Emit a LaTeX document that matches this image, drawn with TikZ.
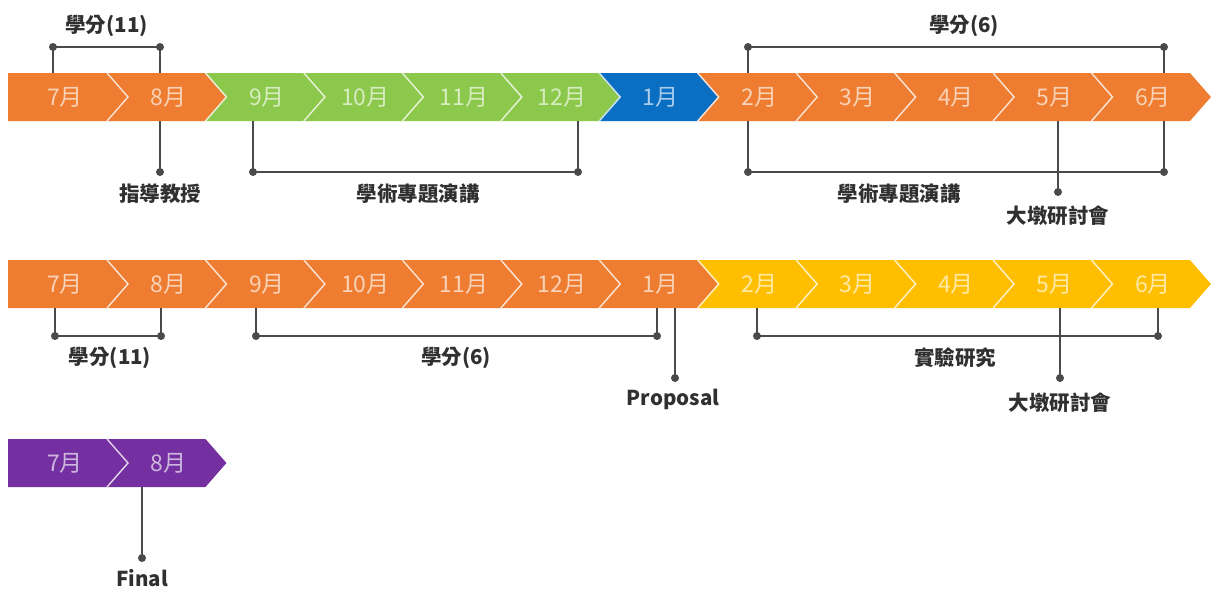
\documentclass[tikz,border=0pt]{standalone}
\usepackage{fontspec}
\newfontfamily\cjk{Noto Sans CJK TC}
\definecolor{cor}{HTML}{EE7D31}
\definecolor{cgr}{HTML}{8CC84B}
\definecolor{cbl}{HTML}{0A6EC2}
\definecolor{cye}{HTML}{FFBF00}
\definecolor{cpu}{HTML}{7430A0}
\definecolor{labelgray}{HTML}{303030}
\definecolor{linegray}{HTML}{4A4A4A}
\tikzset{
  monthtxt/.style={font=\cjk\fontsize{23}{27}\selectfont, inner sep=0pt},
  lbl/.style={font=\cjk\bfseries\fontsize{20.5}{24}\selectfont, text=labelgray, inner sep=0pt},
  conn/.style={draw=linegray, line width=1.6pt},
  enddot/.style={circle, fill=linegray, inner sep=0pt, minimum size=8pt},
  sepline/.style={line width=1.4pt},
}
% #1 index, #2 top, #3 bottom, #4 colour, #5 text, #6 node name
\newcommand{\seg}[6]{%
  \pgfmathsetmacro{\Rx}{107+98.45*(#1-1)}%
  \pgfmathsetmacro{\Lx}{107+98.45*(#1-2)}%
  \pgfmathsetmacro{\My}{(#2+#3)/2}%
  \ifnum#1=1
    \fill[#4] (8,#2) -- (\Rx,#2) -- (\Rx+21,\My) -- (\Rx,#3) -- (8,#3) -- cycle;
    \node[monthtxt, text=#4!35!white] (#6) at (65,\My) {#5};
  \else
    \fill[#4] (\Lx,#2) -- (\Rx,#2) -- (\Rx+21,\My) -- (\Rx,#3) -- (\Lx,#3) -- (\Lx+21,\My) -- cycle;
    \draw[sepline, draw=#4!20!white] (\Lx,#2) -- (\Lx+21,\My) -- (\Lx,#3);
    \node[monthtxt, text=#4!35!white] (#6) at (\Rx-37,\My) {#5};
  \fi
}
\begin{document}
\begin{tikzpicture}[x=1pt,y=-1pt]
\useasboundingbox[fill=white] (0,0) rectangle (1211,590);
% ---------- Row 1 ----------
\seg{1}{73}{121}{cor}{7月}{a1}
\seg{2}{73}{121}{cor}{8月}{a2}
\seg{3}{73}{121}{cgr}{9月}{a3}
\seg{4}{73}{121}{cgr}{10月}{a4}
\seg{5}{73}{121}{cgr}{11月}{a5}
\seg{6}{73}{121}{cgr}{12月}{a6}
\seg{7}{73}{121}{cbl}{1月}{a7}
\seg{8}{73}{121}{cor}{2月}{a8}
\seg{9}{73}{121}{cor}{3月}{a9}
\seg{10}{73}{121}{cor}{4月}{a10}
\seg{11}{73}{121}{cor}{5月}{a11}
\seg{12}{73}{121}{cor}{6月}{a12}
% ---------- Row 2 ----------
\seg{1}{260}{308}{cor}{7月}{b1}
\seg{2}{260}{308}{cor}{8月}{b2}
\seg{3}{260}{308}{cor}{9月}{b3}
\seg{4}{260}{308}{cor}{10月}{b4}
\seg{5}{260}{308}{cor}{11月}{b5}
\seg{6}{260}{308}{cor}{12月}{b6}
\seg{7}{260}{308}{cor}{1月}{b7}
\seg{8}{260}{308}{cye}{2月}{b8}
\seg{9}{260}{308}{cye}{3月}{b9}
\seg{10}{260}{308}{cye}{4月}{b10}
\seg{11}{260}{308}{cye}{5月}{b11}
\seg{12}{260}{308}{cye}{6月}{b12}
% ---------- Row 3 ----------
\seg{1}{439}{487}{cpu}{7月}{c1}
\seg{2}{439}{487}{cpu}{8月}{c2}

% band edges
\coordinate (r1t) at (0,73);
\coordinate (r1b) at (0,121);
\coordinate (r2b) at (0,308);
\coordinate (r3b) at (0,487);

% ---------- Row 1 annotations ----------
\node[enddot] (A1) at (53,47) {};
\node[enddot] (A2) at (160,47) {};
\draw[conn] (A1 |- r1t) -- (A1.center) -- (A2.center) -- (A2 |- r1t);
\node[lbl] (lA) at (106.5,26) {學分(11)};

\node[enddot] (B1) at (160,172) {};
\draw[conn] (B1 |- r1b) -- (B1.center);
\node[lbl] (lB) at (160,194) {指導教授};

\node[enddot] (C1) at (253,172) {};
\node[enddot] (C2) at (578,172) {};
\draw[conn] (C1 |- r1b) -- (C1.center) -- (C2.center) -- (C2 |- r1b);
\node[lbl] (lC) at (418,194) {學術專題演講};

\node[enddot] (D1) at (748,47) {};
\node[enddot] (D2) at (1164,47) {};
\draw[conn] (D1 |- r1t) -- (D1.center) -- (D2.center) -- (D2 |- r1t);
\node[lbl] (lD) at (964,26) {學分(6)};

\node[enddot] (E1) at (748,172) {};
\node[enddot] (E2) at (1164,172) {};
\draw[conn] (E1 |- r1b) -- (E1.center) -- (E2.center) -- (E2 |- r1b);
\node[lbl] (lE) at (899,194) {學術專題演講};

\node[enddot] (F1) at (1058,192) {};
\draw[conn] (F1 |- r1b) -- (F1.center);
\node[lbl] (lF) at (1058,216) {大墩研討會};

% ---------- Row 2 annotations ----------
\node[enddot] (G1) at (55,336) {};
\node[enddot] (G2) at (161,336) {};
\draw[conn] (G1 |- r2b) -- (G1.center) -- (G2.center) -- (G2 |- r2b);
\node[lbl] (lG) at (110,358) {學分(11)};

\node[enddot] (H1) at (256,336) {};
\node[enddot] (H2) at (657,336) {};
\draw[conn] (H1 |- r2b) -- (H1.center) -- (H2.center) -- (H2 |- r2b);
\node[lbl] (lH) at (456,358) {學分(6)};

\node[enddot] (I1) at (675,378) {};
\draw[conn] (I1 |- r2b) -- (I1.center);
\node[lbl] (lI) at (673,399) {Proposal};

\node[enddot] (J1) at (757,336) {};
\node[enddot] (J2) at (1158,336) {};
\draw[conn] (J1 |- r2b) -- (J1.center) -- (J2.center) -- (J2 |- r2b);
\node[lbl] (lJ) at (955,358) {實驗研究};

\node[enddot] (K1) at (1060,378) {};
\draw[conn] (K1 |- r2b) -- (K1.center);
\node[lbl] (lK) at (1060,403) {大墩研討會};

% ---------- Row 3 annotations ----------
\node[enddot] (L1) at (142,558) {};
\draw[conn] (L1 |- r3b) -- (L1.center);
\node[lbl] (lL) at (142,578) {Final};
\end{tikzpicture}
\end{document}
